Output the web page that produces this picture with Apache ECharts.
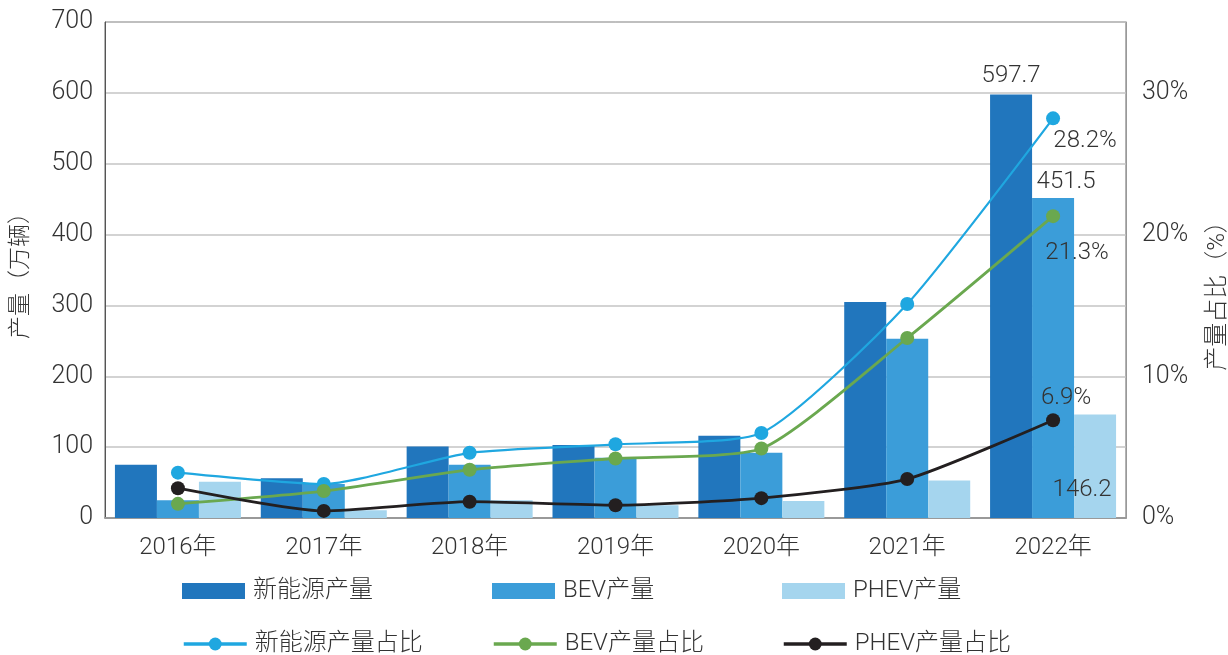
<!DOCTYPE html>
<html>
<head>
<meta charset="utf-8">
<script src="https://cdn.jsdelivr.net/npm/echarts@6/dist/echarts.min.js"></script>
<style>
html, body { margin: 0; padding: 0; background: #fff; }
#main { width: 1228px; height: 655px; }
</style>
</head>
<body>
<div id="main"></div>
<script>
const years = ['2016年', '2017年', '2018年', '2019年', '2020年', '2021年', '2022年']
const nevOutput = [75, 56, 101, 103, 116, 305, 597.7]
const bevOutput = [25, 48, 75, 85, 92, 253, 451.5]
const phevOutput = [51, 11, 25, 18, 24, 53, 146.2]
const nevShare = [3.2, 2.4, 4.6, 5.2, 6.0, 15.1, 28.2]
const bevShare = [1.0, 1.9, 3.4, 4.2, 4.9, 12.7, 21.3]
const phevShare = [2.1, 0.5, 1.15, 0.9, 1.4, 2.75, 6.9]

const font = 'Roboto, "Noto Sans CJK SC", sans-serif'
const textColor = '#333'

// only the 2022 value gets a label
function lastLabel(values, label) {
  return values.map((v, i) => i === values.length - 1 ? { value: v, label: Object.assign({ show: true }, label) } : v)
}

const labelStyle = {
  color: textColor,
  fontSize: 24,
  fontFamily: font,
  fontWeight: 300
}

// one legend per item so the two rows line up in columns
function legendItem(name, left, top, icon) {
  const item = {
    left: left,
    top: top,
    padding: 0,
    itemWidth: 63,
    itemHeight: 16,
    textStyle: { fontSize: 24, color: textColor, fontFamily: font, fontWeight: 300, padding: [0, 0, 0, 3] },
    data: [name]
  }
  if (icon) {
    item.icon = icon
  } else {
    item.lineStyle = { width: 3.5 }
  }
  return item
}

const chart = echarts.init(document.getElementById('main'))
const option = {
  animation: false,
  textStyle: { fontFamily: font },
  grid: {
    left: 105,
    right: 102,
    top: 22,
    bottom: 137,
    outerBoundsMode: 'none',
    containLabel: false,
    show: true,
    borderColor: '#666',
    borderWidth: 1
  },
  legend: [
    legendItem('新能源产量', 182, 579, 'rect'),
    legendItem('BEV产量', 492, 579, 'rect'),
    legendItem('PHEV产量', 782, 579, 'rect'),
    legendItem('新能源产量占比', 182, 632),
    legendItem('BEV产量占比', 492, 632),
    legendItem('PHEV产量占比', 782, 632)
  ],
  xAxis: {
    type: 'category',
    data: years,
    axisLine: { lineStyle: { color: '#999', width: 2 } },
    axisTick: { show: false },
    axisLabel: {
      margin: 18,
      fontSize: 24,
      color: textColor,
      fontFamily: font,
      fontWeight: 300
    }
  },
  yAxis: [{
    type: 'value',
    min: 0,
    max: 700,
    interval: 100,
    name: '产量（万辆）',
    nameLocation: 'middle',
    nameRotate: 90,
    nameGap: 72,
    nameTextStyle: { fontSize: 23, color: textColor, fontFamily: font, fontWeight: 300 },
    axisLine: { show: true, lineStyle: { color: '#555' } },
    axisTick: { show: false },
    axisLabel: {
      margin: 12,
      fontSize: 25,
      color: textColor,
      fontFamily: font,
      fontWeight: 300
    },
    splitLine: { lineStyle: { color: '#c4c4c4', width: 1.5 } }
  }, {
    type: 'value',
    min: 0,
    max: 35,
    interval: 10,
    position: 'right',
    name: '产量占比（%）',
    nameLocation: 'middle',
    nameRotate: 90,
    nameGap: 80,
    nameTextStyle: { fontSize: 24, color: textColor, fontFamily: font, fontWeight: 300, padding: [0, 40, 0, 0] },
    axisLine: { show: true, lineStyle: { color: '#999' } },
    axisTick: { show: false },
    axisLabel: {
      margin: 16,
      fontSize: 25,
      color: textColor,
      fontFamily: font,
      fontWeight: 300,
      showMaxLabel: false,
      formatter: '{value}%'
    },
    splitLine: { show: false }
  }],
  series: [{
    name: '新能源产量',
    type: 'bar',
    barWidth: 42,
    barGap: '0%',
    itemStyle: { color: '#2176bd' },
    data: lastLabel(nevOutput, Object.assign({ position: 'top', distance: 6 }, labelStyle))
  }, {
    name: 'BEV产量',
    type: 'bar',
    barWidth: 42,
    barGap: '0%',
    itemStyle: { color: '#3b9dd9' },
    data: lastLabel(bevOutput, Object.assign({ position: 'top', distance: 4, offset: [13, 0] }, labelStyle))
  }, {
    name: 'PHEV产量',
    type: 'bar',
    barWidth: 42,
    barGap: '0%',
    itemStyle: { color: '#a5d5ee' },
    data: lastLabel(phevOutput, Object.assign({ position: 'insideBottom', distance: 16, offset: [-13, 0] }, labelStyle))
  }, {
    name: '新能源产量占比',
    type: 'line',
    yAxisIndex: 1,
    smooth: 0.2,
    symbol: 'circle',
    symbolSize: 14,
    itemStyle: { color: '#1fa7e0' },
    lineStyle: { width: 2.2, color: '#1fa7e0' },
    data: lastLabel(nevShare, Object.assign({ position: 'inside', offset: [32, 23], formatter: '{c}%' }, labelStyle))
  }, {
    name: 'BEV产量占比',
    type: 'line',
    yAxisIndex: 1,
    smooth: 0.2,
    symbol: 'circle',
    symbolSize: 14,
    itemStyle: { color: '#6aa84f' },
    lineStyle: { width: 2.8, color: '#6aa84f' },
    data: lastLabel(bevShare, Object.assign({ position: 'inside', offset: [24, 37], formatter: '{c}%' }, labelStyle))
  }, {
    name: 'PHEV产量占比',
    type: 'line',
    yAxisIndex: 1,
    smooth: 0.2,
    symbol: 'circle',
    symbolSize: 14,
    itemStyle: { color: '#231f20' },
    lineStyle: { width: 2.8, color: '#231f20' },
    data: lastLabel(phevShare, Object.assign({ position: 'inside', offset: [13, -22], formatter: '{c}%' }, labelStyle))
  }]
}
chart.setOption(option)
</script>
</body>
</html>
